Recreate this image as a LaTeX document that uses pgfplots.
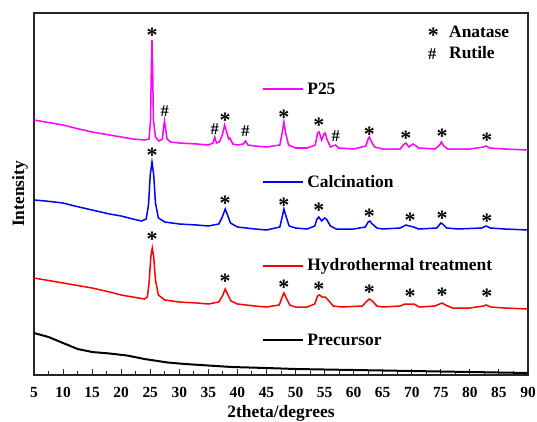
\documentclass[border=0pt]{standalone}
\usepackage{fontspec}
\setmainfont{Liberation Serif}
\usepackage{pgfplots}
\pgfplotsset{compat=1.18}

\definecolor{pmag}{RGB}{255,0,255}
\definecolor{pred}{RGB}{255,0,0}
\definecolor{pblue}{RGB}{0,0,255}

\tikzset{
  ast/.style={anchor=base, inner sep=0pt, yshift=-10.5bp, font=\fontsize{22}{24}\selectfont\bfseries},
  hsh/.style={anchor=base, inner sep=0pt, yshift=-6.2bp, font=\fontsize{16.5}{18}\selectfont\bfseries},
  lbl/.style={anchor=west, inner sep=0pt, font=\fontsize{17.5}{20}\selectfont\bfseries},
}

\begin{document}
\begin{tikzpicture}
\begin{axis}[
    scale only axis, width=494bp, height=362bp,
    xmin=5, xmax=90, ymin=0, ymax=362,
    xtick={5,10,...,90}, minor x tick num=1,
    xtick pos=bottom, tick align=inside,
    major tick length=6bp, minor tick length=4bp,
    ytick=\empty,
    axis line style={line width=1.2bp, black!85},
    every tick/.style={line width=1bp, black!85},
    /pgf/number format/assume math mode=true,
    ticklabel style={font=\fontsize{15.5}{18}\selectfont\bfseries},
    xticklabel style={yshift=-9bp},
    xlabel={2theta/degrees}, ylabel={Intensity},
    label style={font=\fontsize{17.5}{20}\selectfont\bfseries},
    xlabel style={at={(axis description cs:0.5,0)}, anchor=center, yshift=-38bp},
    ylabel style={at={(axis description cs:-0.0283,0.5)}, anchor=center},
    clip=false,
]
% Precursor
\addplot[black, line width=2bp] coordinates {
 (5,42) (7.5,38) (10,32) (12.5,26) (15,23) (18,21.5) (21,19.5) (24,16)
 (28,12.5) (31,11) (35,9.5) (39,8) (45,7) (50,6) (55,5.5) (60,5) (70,4) (80,3) (90,2)
};
% Hydrothermal treatment
\addplot[pred, line width=1.5bp] coordinates {
 (5,97) (8,94) (10,92) (12,90) (15,87) (18,83) (20,80) (22,78) (24,76) (24.5,78)
 (24.8,92) (25.1,118) (25.35,127) (25.6,118) (25.9,95) (26.4,80) (27.5,75) (30,73)
 (33,72) (35,71) (36.8,73) (37.5,80) (37.9,86) (38.3,81) (38.9,74) (40,71) (43,69)
 (45,68) (47.2,70) (47.7,78) (48.0,82) (48.4,77) (49,70) (50,68) (52,68) (53.3,71)
 (53.8,79) (54.1,80) (54.6,78) (55.1,78) (55.6,75) (56.5,69) (58,68) (61.5,69)
 (62.3,74) (62.7,76) (63.2,74) (64,69) (65,68) (68,69) (68.8,71) (69.7,71) (70.4,71)
 (71.3,68) (74,69) (74.8,71) (75.2,72) (75.8,70) (77,67) (80,67) (82.3,69) (82.8,70)
 (83.6,68) (86,67) (90,66)
};
% Calcination
\addplot[pblue, line width=1.5bp] coordinates {
 (5,175) (7,174) (10,172) (12,169) (15,165) (18,161) (20,159) (22,156) (23.5,154)
 (24.3,156) (24.7,170) (25.0,200) (25.3,213) (25.6,200) (25.9,172) (26.4,157)
 (27.5,153) (30,151) (33,150) (35,149) (36.8,151) (37.4,158) (37.9,166) (38.3,160)
 (38.8,152) (40,148) (43,146) (45,145) (47.3,148) (47.7,158) (48.0,166) (48.3,160)
 (48.9,149) (50,147) (52,146) (53.3,149) (53.7,156) (54.0,158) (54.5,154) (55.0,157)
 (55.3,156) (56,149) (57,146) (60,146) (62,148) (62.5,153) (62.8,154) (63.2,151)
 (64,147) (65,146) (68,147) (69,150) (69.6,149) (70.3,148) (71.2,146) (74.3,147)
 (75.0,152) (75.3,151) (76,147) (78,146) (82,147) (82.8,149) (83.5,147) (86,146) (90,145)
};
% P25
\addplot[pmag, line width=1.5bp] coordinates {
 (5,255) (7,253) (10,250) (12,247) (15,243) (18,240) (20,238) (22,236) (24,235)
 (24.8,236) (25.05,255) (25.2,310) (25.3,335) (25.4,310) (25.55,255) (25.9,238)
 (26.5,234) (27.1,236) (27.3,248) (27.45,254) (27.6,248) (27.9,236) (28.5,233)
 (30,232) (33,231) (35,230) (35.8,232) (36.1,238) (36.4,232) (36.9,233) (37.4,240)
 (37.8,250) (38.1,244) (38.5,236) (38.7,237) (39.2,231) (40,230) (41,231) (41.4,234)
 (41.8,230) (43,229) (45,228) (47.3,230) (47.7,242) (48.0,253) (48.3,242) (48.8,230)
 (50,227) (52,227) (53.4,230) (53.8,242) (54.05,243) (54.5,235) (54.9,241) (55.1,242)
 (55.4,236) (56,228) (56.9,230) (57.4,227) (60,226) (62.1,229) (62.5,236) (62.7,238)
 (63,234) (63.6,228) (65,226) (68,226) (68.7,231) (69,232) (69.5,228) (70.2,231)
 (70.5,230) (71.2,227) (74,226) (74.8,230) (75.1,233) (75.5,229) (76.2,226) (80,226)
 (82.4,228) (82.8,229) (83.4,227) (86,226) (90,225)
};

% peak markers
\node[ast] at (axis cs:25.3,343) {*};
\node[hsh] at (axis cs:27.5,265) {\#};
\node[hsh] at (axis cs:36.1,247) {\#};
\node[ast] at (axis cs:37.9,258) {*};
\node[hsh] at (axis cs:41.4,245) {\#};
\node[ast] at (axis cs:48.0,261) {*};
\node[ast] at (axis cs:54.0,253) {*};
\node[hsh] at (axis cs:56.9,240) {\#};
\node[ast] at (axis cs:62.7,244) {*};
\node[ast] at (axis cs:69.0,240) {*};
\node[ast] at (axis cs:75.2,242) {*};
\node[ast] at (axis cs:82.9,238) {*};

\node[ast] at (axis cs:25.3,223) {*};
\node[ast] at (axis cs:37.9,175) {*};
\node[ast] at (axis cs:48.0,173) {*};
\node[ast] at (axis cs:54.0,168) {*};
\node[ast] at (axis cs:62.7,162) {*};
\node[ast] at (axis cs:69.7,158) {*};
\node[ast] at (axis cs:75.2,160) {*};
\node[ast] at (axis cs:82.9,157) {*};

\node[ast] at (axis cs:25.3,139) {*};
\node[ast] at (axis cs:37.9,97) {*};
\node[ast] at (axis cs:48.0,91) {*};
\node[ast] at (axis cs:54.0,89) {*};
\node[ast] at (axis cs:62.7,86) {*};
\node[ast] at (axis cs:69.7,82) {*};
\node[ast] at (axis cs:75.2,83) {*};
\node[ast] at (axis cs:82.9,82) {*};

% key
\node[ast] at (axis cs:73.7,343) {*};
\node[lbl] at (axis cs:76.4,343) {Anatase};
\node[hsh] at (axis cs:73.5,322) {\#};
\node[lbl] at (axis cs:76.4,322) {Rutile};

% series labels
\draw[pmag, line width=1.5bp] (axis cs:44.4,286) -- (axis cs:51.3,286);
\node[lbl] at (axis cs:52.0,286) {P25};
\draw[pblue, line width=1.5bp] (axis cs:44.4,193) -- (axis cs:51.3,193);
\node[lbl] at (axis cs:52.0,193) {Calcination};
\draw[pred, line width=1.5bp] (axis cs:44.4,109) -- (axis cs:51.3,109);
\node[lbl] at (axis cs:52.0,109) {Hydrothermal treatment};
\draw[black, line width=1.5bp] (axis cs:44.4,35) -- (axis cs:51.3,35);
\node[lbl] at (axis cs:52.0,35) {Precursor};

\coordinate (sw) at (rel axis cs:0,0);
\coordinate (ne) at (rel axis cs:1,1);
\end{axis}
\pgfresetboundingbox
\path[use as bounding box] ([xshift=-34bp,yshift=-46bp]sw) rectangle ([xshift=9bp,yshift=13bp]ne);
\end{tikzpicture}
\end{document}
